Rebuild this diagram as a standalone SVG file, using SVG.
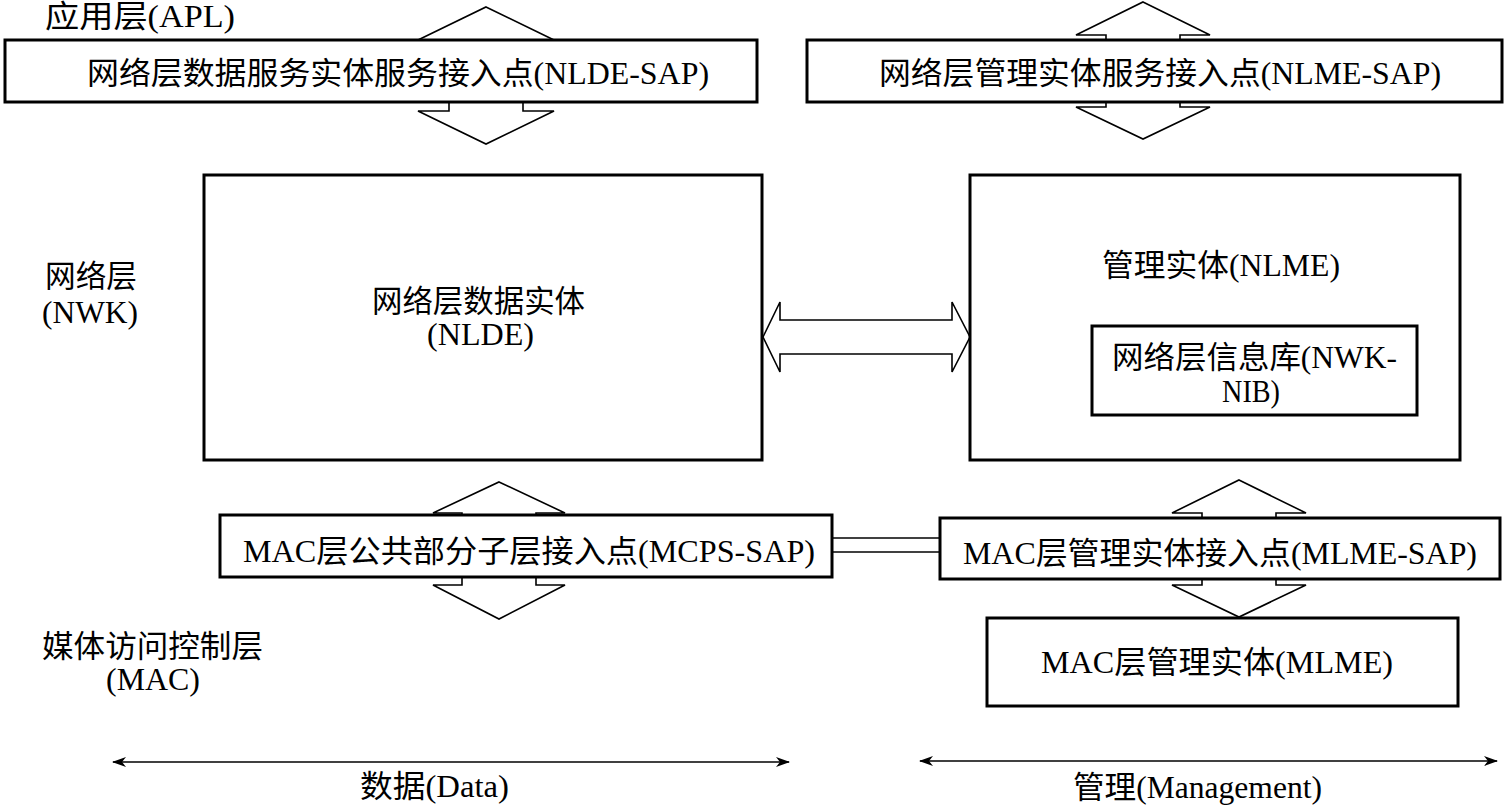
<svg xmlns="http://www.w3.org/2000/svg" width="1505" height="806" viewBox="0 0 1505 806">
<style>
.box{fill:#fff;stroke:#000;stroke-width:3}
.ib{fill:#fff;stroke:#000;stroke-width:1.6;stroke-linejoin:miter}
.ln{fill:none;stroke:#000;stroke-width:1.6}
.t{font-family:"Liberation Serif","Noto Sans CJK SC",serif;font-size:31px;fill:#000}
</style>
<defs>
<marker id="ah" viewBox="0 0 14 10" refX="13" refY="5" markerWidth="14" markerHeight="10" markerUnits="userSpaceOnUse" orient="auto-start-reverse">
<path d="M0,0 L14,5 L0,10 L4,5 Z" fill="#000"/>
</marker>
</defs>
<rect width="1505" height="806" fill="#fff"/>
<g id="connectors">
<polygon class="ib" points="486,7 554,40 523,40 523,111 554,111 486,144 418,111 449,111 449,40 418,40"/>
<polygon class="ib" points="1143,2 1210,35 1180,35 1180,107 1210,107 1143,139 1076,107 1106,107 1106,35 1076,35"/>
<polygon class="ib" points="499,482 565,513 536,513 536,585 565,585 499,619 433,585 462,585 462,513 433,513"/>
<polygon class="ib" points="1239,480 1306,513 1276,513 1276,585 1306,585 1239,617 1172,585 1202,585 1202,513 1172,513"/>
<polygon class="ib" points="763,337 780,302 780,320 952,320 952,302 970,337 952,372 952,354 780,354 780,372"/>
<line class="ln" x1="832" y1="538" x2="940" y2="538"/>
<line class="ln" x1="832" y1="552" x2="940" y2="552"/>
<line class="ln" x1="113" y1="762" x2="789" y2="762" marker-start="url(#ah)" marker-end="url(#ah)"/>
<line class="ln" x1="920" y1="761" x2="1497" y2="761" marker-start="url(#ah)" marker-end="url(#ah)"/>
</g>
<g id="label-apl"><text class="t" x="45" y="27" textLength="190" lengthAdjust="spacingAndGlyphs">应用层(APL)</text></g>
<g id="nlde-sap">
<rect class="box" x="5" y="40" width="752" height="62"/>
<text class="t" x="87" y="84" textLength="622" lengthAdjust="spacingAndGlyphs">网络层数据服务实体服务接入点(NLDE-SAP)</text>
</g>
<g id="nlme-sap">
<rect class="box" x="807" y="40" width="695" height="62"/>
<text class="t" x="879" y="84" textLength="562" lengthAdjust="spacingAndGlyphs">网络层管理实体服务接入点(NLME-SAP)</text>
</g>
<g id="label-nwk">
<text class="t" x="45" y="287" textLength="92" lengthAdjust="spacingAndGlyphs">网络层</text>
<text class="t" x="42" y="323" textLength="96" lengthAdjust="spacingAndGlyphs">(NWK)</text>
</g>
<g id="nlde">
<rect class="box" x="204" y="175" width="558" height="285"/>
<text class="t" x="372" y="312" textLength="213" lengthAdjust="spacingAndGlyphs">网络层数据实体</text>
<text class="t" x="427" y="345" textLength="107" lengthAdjust="spacingAndGlyphs">(NLDE)</text>
</g>
<g id="nlme">
<rect class="box" x="970" y="175" width="490" height="285"/>
<text class="t" x="1102" y="276" textLength="238" lengthAdjust="spacingAndGlyphs">管理实体(NLME)</text>
</g>
<g id="nwk-nib">
<rect class="box" x="1092" y="326" width="325" height="89"/>
<text class="t" x="1112" y="368" textLength="285" lengthAdjust="spacingAndGlyphs">网络层信息库(NWK-</text>
<text class="t" x="1222" y="402" textLength="58" lengthAdjust="spacingAndGlyphs">NIB)</text>
</g>
<g id="mcps-sap">
<rect class="box" x="220" y="515" width="612" height="62"/>
<text class="t" x="243" y="562" textLength="572" lengthAdjust="spacingAndGlyphs">MAC层公共部分子层接入点(MCPS-SAP)</text>
</g>
<g id="mlme-sap">
<rect class="box" x="940" y="518" width="560" height="61"/>
<text class="t" x="963" y="564" textLength="514" lengthAdjust="spacingAndGlyphs">MAC层管理实体接入点(MLME-SAP)</text>
</g>
<g id="mlme">
<rect class="box" x="987" y="618" width="471" height="88"/>
<text class="t" x="1041" y="673" textLength="352" lengthAdjust="spacingAndGlyphs">MAC层管理实体(MLME)</text>
</g>
<g id="label-mac">
<text class="t" x="42" y="657" textLength="221" lengthAdjust="spacingAndGlyphs">媒体访问控制层</text>
<text class="t" x="106" y="690" textLength="94" lengthAdjust="spacingAndGlyphs">(MAC)</text>
</g>
<g id="label-data"><text class="t" x="360" y="797" textLength="149" lengthAdjust="spacingAndGlyphs">数据(Data)</text></g>
<g id="label-mgmt"><text class="t" x="1073" y="798" textLength="249" lengthAdjust="spacingAndGlyphs">管理(Management)</text></g>
</svg>
